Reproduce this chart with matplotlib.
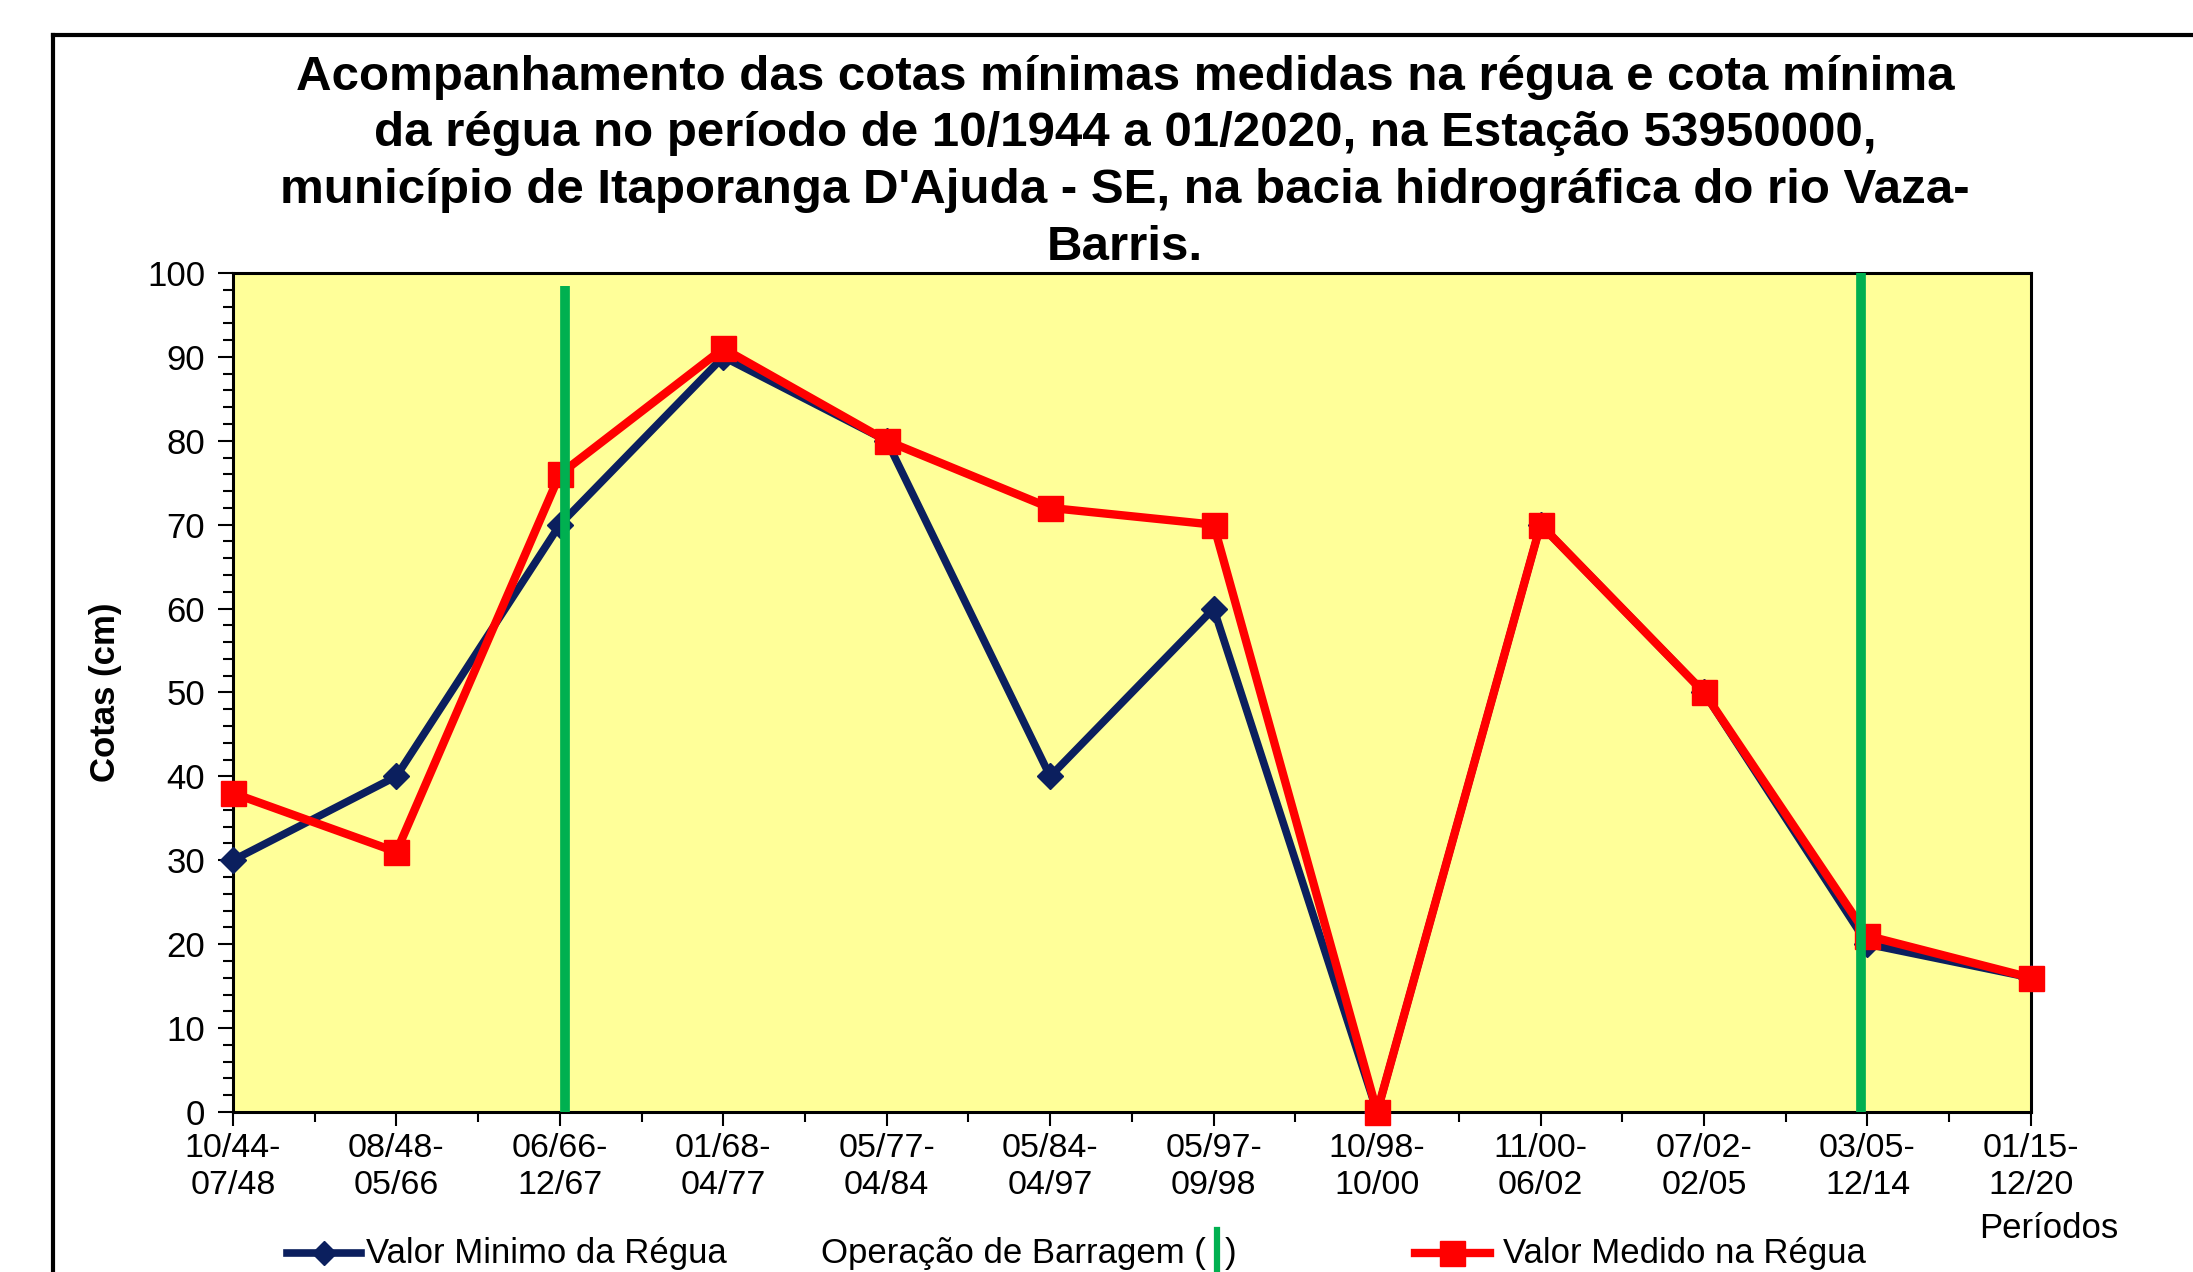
import matplotlib
matplotlib.use('Agg')
import matplotlib.pyplot as plt
from matplotlib.lines import Line2D
from matplotlib.ticker import MultipleLocator

plt.rcParams['font.family'] = ['Liberation Sans', 'DejaVu Sans']

periodos = ['10/44-\n07/48', '08/48-\n05/66', '06/66-\n12/67', '01/68-\n04/77',
            '05/77-\n04/84', '05/84-\n04/97', '05/97-\n09/98', '10/98-\n10/00',
            '11/00-\n06/02', '07/02-\n02/05', '03/05-\n12/14', '01/15-\n12/20']
valor_minimo = [30, 40, 70, 90, 80, 40, 60, 0, 70, 50, 20, 16]
valor_medido = [38, 31, 76, 91, 80, 72, 70, 0, 70, 50, 21, 16]

# operação de barragem (posição no eixo de períodos, altura da linha)
barragem_x = [2.03, 9.96]
barragem_topo = [98.5, 100]

azul = '#0B1F5E'
vermelho = '#FF0000'
verde = '#00B050'

fig = plt.figure(figsize=(21.93, 12.72), dpi=100)
ax = fig.add_axes([0.1062, 0.1258, 0.9261 - 0.1062, 0.7854 - 0.1258])
ax.set_facecolor('#FFFF99')

x = list(range(len(periodos)))
ax.plot(x, valor_minimo, color=azul, lw=5.5, marker='D', ms=13, zorder=3, clip_on=False)
ax.plot(x, valor_medido, color=vermelho, lw=6, marker='s', ms=18, zorder=4, clip_on=False)
for bx, bt in zip(barragem_x, barragem_topo):
    ax.plot([bx, bx], [0, bt], color=verde, lw=7, zorder=5, solid_capstyle='butt')

ax.set_xlim(0, len(periodos) - 1)
ax.set_ylim(0, 100)
ax.set_xticks(x)
ax.set_xticklabels(periodos, linespacing=1.25)
ax.xaxis.set_minor_locator(MultipleLocator(0.5))
ax.yaxis.set_major_locator(MultipleLocator(10))
ax.yaxis.set_minor_locator(MultipleLocator(2))
ax.tick_params(axis='both', which='major', direction='out', length=11, width=1.5,
               labelsize=24.5, pad=5)
ax.tick_params(axis='y', which='major', labelsize=25, pad=9)
ax.tick_params(axis='both', which='minor', direction='out', length=7, width=1.5)
ax.tick_params(axis='x', which='major', length=10)
for s in ax.spines.values():
    s.set_linewidth(2.2)

ax.set_ylabel('Cotas (cm)', fontsize=25, fontweight='bold', labelpad=18)

fig.text(0.513, 0.8725,
         'Acompanhamento das cotas mínimas medidas na régua e cota mínima\n'
         'da régua no período de 10/1944 a 01/2020, na Estação 53950000,\n'
         'município de Itaporanga D\'Ajuda - SE, na bacia hidrográfica do rio Vaza-\n'
         'Barris.',
         ha='center', va='center', fontsize=35.5, fontweight='bold', linespacing=1.33)

fig.text(2049 / 2193, 1 - 1228 / 1272, 'Períodos', ha='center', va='center', fontsize=25)

# legenda manual
ly = 1 - 1253 / 1272
fig.add_artist(Line2D([287 / 2193, 361 / 2193], [ly, ly], color=azul, lw=5.5,
                      transform=fig.transFigure))
fig.add_artist(Line2D([324 / 2193], [ly], color=azul, marker='D', ms=12, lw=0,
                      transform=fig.transFigure))
fig.text(366 / 2193, ly, 'Valor Minimo da Régua', ha='left', va='center', fontsize=25)
fig.text(821 / 2193, ly, 'Operação de Barragem (', ha='left', va='center', fontsize=25)
fig.add_artist(Line2D([1217 / 2193, 1217 / 2193], [ly - 0.018, ly + 0.018], color=verde,
                      lw=4.5, transform=fig.transFigure))
fig.text(1225 / 2193, ly, ')', ha='left', va='center', fontsize=25)
fig.add_artist(Line2D([1415 / 2193, 1490 / 2193], [ly, ly], color=vermelho, lw=6,
                      transform=fig.transFigure))
fig.add_artist(Line2D([1452 / 2193], [ly], color=vermelho, marker='s', ms=18, lw=0,
                      transform=fig.transFigure))
fig.text(1503 / 2193, ly, 'Valor Medido na Régua', ha='left', va='center', fontsize=25)

# moldura externa
bx0 = 53 / 2193
by0 = 1 - 35 / 1272
fig.add_artist(Line2D([bx0, bx0], [0, by0], color='black', lw=3, transform=fig.transFigure))
fig.add_artist(Line2D([bx0, 1], [by0, by0], color='black', lw=3, transform=fig.transFigure))

fig.savefig('out.png', dpi=100)
